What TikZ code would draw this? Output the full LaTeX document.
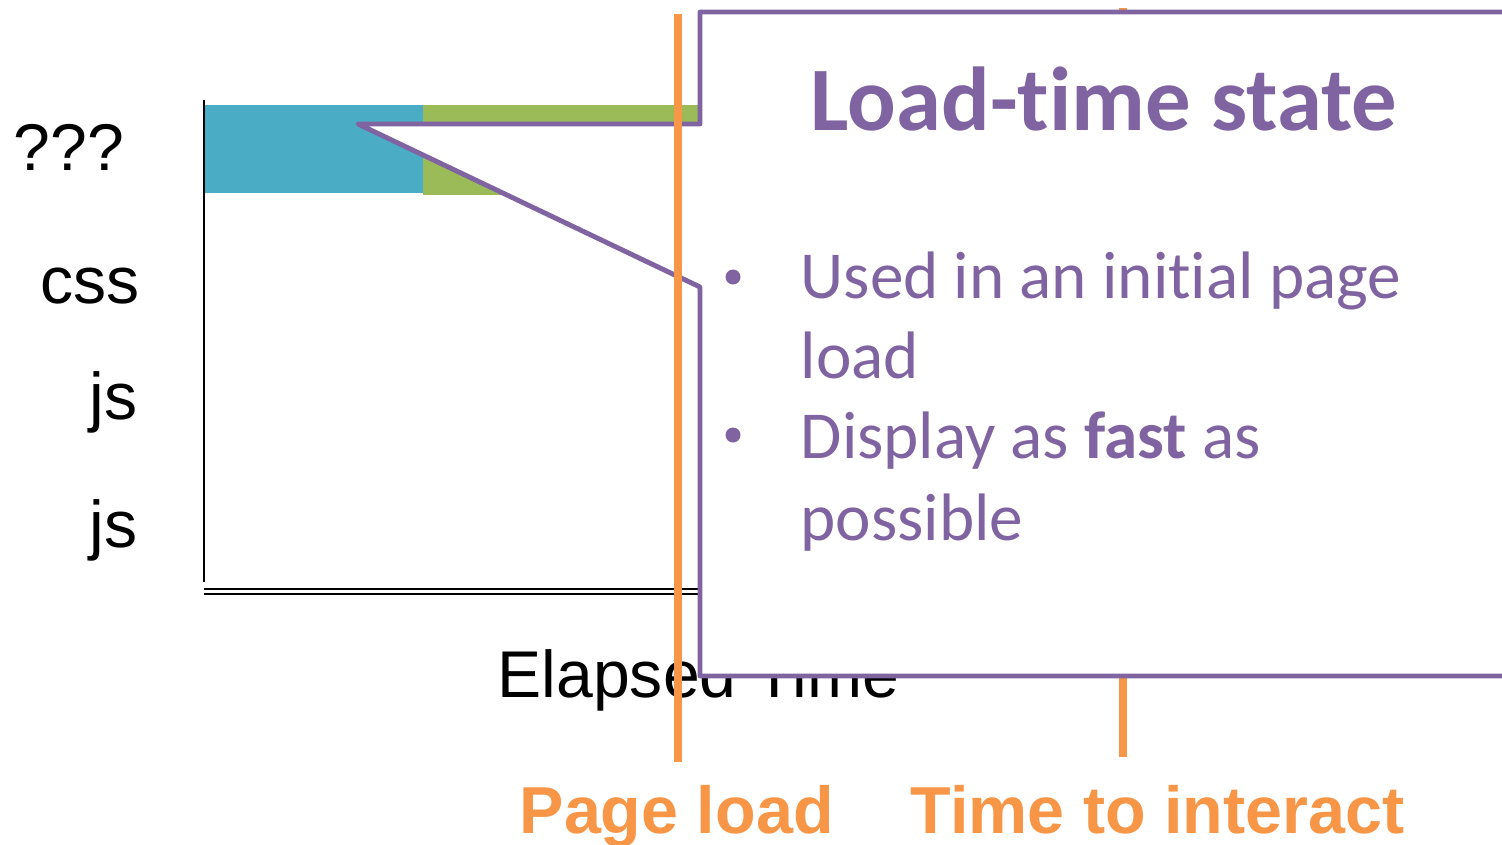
\documentclass[tikz,border=0pt]{standalone}
\usepackage{fontspec}
\setmainfont{Liberation Sans}
\newfontfamily\calibfont[Ligatures=NoCommon]{Carlito}
\usetikzlibrary{positioning}
\definecolor{calloutpurple}{HTML}{8064A2}
\definecolor{markerorange}{HTML}{F79646}
\definecolor{barcyan}{HTML}{4BACC6}
\definecolor{bargreen}{HTML}{9BBB59}

\begin{document}
\begin{tikzpicture}[x=0.01cm,y=-0.01cm]
	\tikzstyle{rowlabel}=[font=\fontsize{18.8}{22}\selectfont, inner sep=0pt]
	\tikzstyle{markerline}=[draw=markerorange, line width=2.3pt]
	\tikzstyle{markerlabel}=[font=\fontsize{18.9}{22}\selectfont\bfseries, text=markerorange, inner sep=0pt]
	\tikzstyle{callout}=[draw=calloutpurple, fill=white, line width=1.4pt, line join=round]
	\tikzstyle{bullettext}=[font=\calibfont\fontsize{19.1}{22.8}\selectfont, text=calloutpurple, inner sep=0pt]
	\useasboundingbox (0,0) rectangle (1502,845);
	
	% bars and axes
	\fill[barcyan] (204,105) rectangle (423,193);
	\fill[bargreen] (423,105) rectangle (710,195);
	\draw[line width=0.6pt] (204,100) -- (204,582);
	\draw[line width=0.6pt] (204,589) -- (1130,589);
	\draw[line width=0.8pt] (204,594) -- (1130,594);
	
	\node[rowlabel, anchor=base west](q)  at (13,170) {???};
	\node[rowlabel, anchor=base east](css) at (140,303) {css};
	\node[rowlabel, anchor=base east](jsa) at (138,419) {js};
	\node[rowlabel, anchor=base east](jsb) at (138,547) {js};
	\node[rowlabel, anchor=base west](elapsed) at (497,697) {Elapsed Time};
	
	% markers
	\coordinate (pltop) at (678,14);
	\coordinate (plbot) at (678,762);
	\coordinate (titop) at (1123,8);
	\coordinate (tibot) at (1123,757);
	\draw[markerline] (titop) -- (tibot);
	
	% callout
	\draw[callout] (358,124) -- (700,124) -- (700,12) -- (1510,12) -- (1510,676)
		-- (700,676) -- (700,287) -- cycle;
	\draw[markerline] (pltop) -- (plbot);
	
	\node[font=\calibfont\bfseries\fontsize{25.8}{30}\selectfont, text=calloutpurple, inner sep=0pt, anchor=base west](title) at (810,130) {Load-time state};
	\node[bullettext, anchor=base west](usea) at (800,298) {Used in an initial page};
	\node[bullettext, anchor=base west](useb) at (800,378) {load};
	\node[bullettext, anchor=base west](fasta) at (800,458) {Display as \textbf{fast} as};
	\node[bullettext, anchor=base west](fastb) at (800,540) {possible};
	\fill[calloutpurple] (733,277) circle (7.5);
	\fill[calloutpurple] (733,435) circle (7.5);
	
	\node[markerlabel, anchor=base west](pl) at (519,833) {Page load};
	\node[markerlabel, anchor=base west](ti) at (910,833) {Time to interact};
\end{tikzpicture}
\end{document}
